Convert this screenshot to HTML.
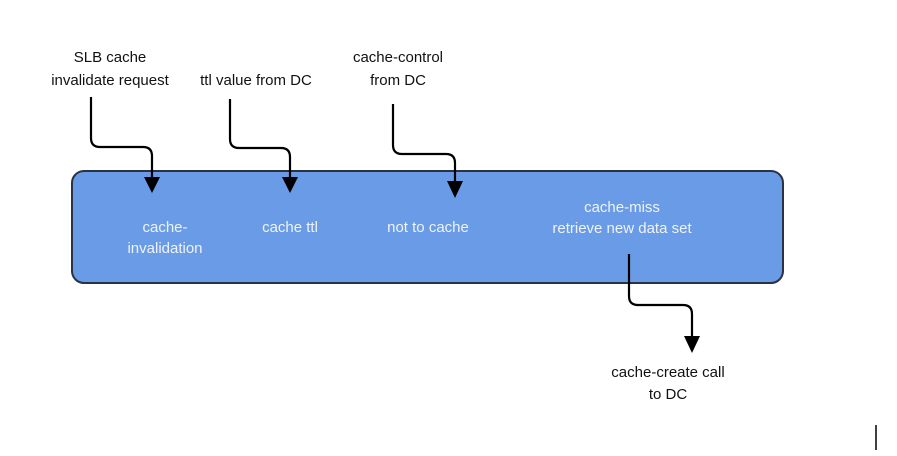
<!DOCTYPE html>
<html><head><style>
body{margin:0;width:897px;height:456px;background:#fff;overflow:hidden;font-family:"Liberation Sans",sans-serif;}
</style></head><body>
<svg width="897" height="456" xmlns="http://www.w3.org/2000/svg" style="position:absolute;left:0;top:0">
<rect x="72" y="171" width="711" height="112" rx="12" fill="#6a9be6" stroke="#2a3344" stroke-width="2"/>
<g fill="none" stroke="#000" stroke-width="2.2">
<path d="M91 97 V138 Q91 147 100 147 H143 Q152 147 152 156 V180"/>
<path d="M230 99 V139 Q230 148 239 148 H281 Q290 148 290 157 V180"/>
<path d="M393 104 V145 Q393 154 402 154 H446 Q455 154 455 163 V184"/>
<path d="M629 254 V296 Q629 305 638 305 H683 Q692 305 692 314 V338"/>
</g>
<g fill="#000">
<path d="M144 177 H160 L152 193 Z"/>
<path d="M282 177 H298 L290 193 Z"/>
<path d="M447 181 H463 L455 198 Z"/>
<path d="M684 336 H700 L692 353 Z"/>
</g>
<g font-size="15" text-anchor="middle" fill="#111">
<text x="110" y="62">SLB cache</text>
<text x="110" y="85">invalidate request</text>
<text x="256" y="85">ttl value from DC</text>
<text x="398" y="62">cache-control</text>
<text x="398" y="85">from DC</text>
<text x="668" y="377">cache-create call</text>
<text x="668" y="399">to DC</text>
</g>
<g font-size="15" text-anchor="middle" fill="#eef3fb">
<text x="165" y="232">cache-</text>
<text x="165" y="253">invalidation</text>
<text x="290" y="232">cache ttl</text>
<text x="428" y="232">not to cache</text>
<text x="622" y="212">cache-miss</text>
<text x="622" y="233">retrieve new data set</text>
</g>
<line x1="876" y1="425" x2="876" y2="450" stroke="#000" stroke-width="1.5"/>
</svg>
</body></html>
